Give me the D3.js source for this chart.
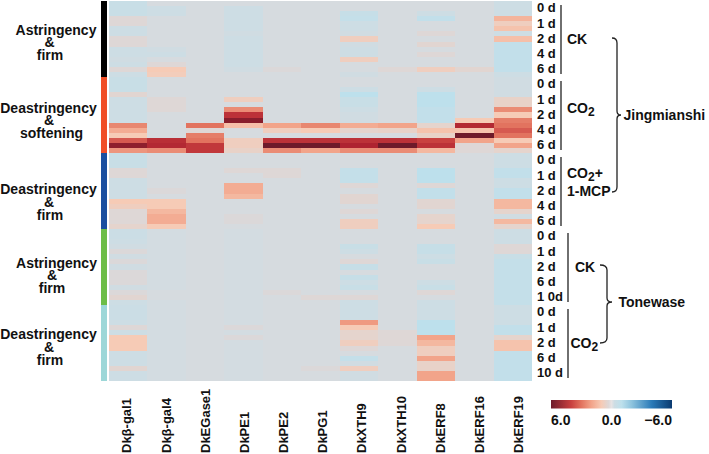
<!DOCTYPE html>
<html><head><meta charset="utf-8">
<script src="https://cdn.jsdelivr.net/npm/d3@7"></script>
<style>
html,body{margin:0;padding:0;background:#fff;}
text{font-family:"Liberation Sans",Arial,sans-serif;font-weight:bold;fill:#111;}
</style></head>
<body>
<svg id="chart" width="709" height="454"></svg>
<script>
// ---------- DATA ----------
const genes = ["Dkβ-gal1","Dkβ-gal4","DkEGase1","DkPE1","DkPE2","DkPG1","DkXTH9","DkXTH10","DkERF8","DkERF16","DkERF19"];
const timeLabels = ["0 d","1 d","2 d","4 d","6 d","0 d","1 d","2 d","4 d","6 d","0 d","1 d","2 d","4 d","6 d",
                    "0 d","1 d","2 d","6 d","1 0d","0 d","1 d","2 d","6 d","10 d"];
const replicates = 3;
const phenotypes = [["Astringency","&","firm"],["Deastringency","&","softening"],["Deastringency","&","firm"],["Astringency","&","firm"],["Deastringency","&","firm"]];
const phenotypeColors = ["#000000","#f04e26","#1b4f9f","#6dbd47","#9dd7d8"];
const treatments = ["CK","CO2","CO2+1-MCP","CK","CO2"];
const cultivars = ["Jingmianshi","Tonewase"];
const legendTicks = [6,0,-6];

// expression values (log2 fold change), 25 time points x 3 replicates per gene
const gal1 = [-0.5,-0.5,-0.5, 0.3,0.3,-0.3, -0.3,0.3,0.3, -0.3,-0.3,-0.2, -0.3,0.3,-0.3,
  -0.5,-0.5,-0.5, 0.4,-0.3,-0.3, -0.3,-0.3,-0.3, 2.6,1.8,1.0, 3.5,5.5,2.3,
  -0.5,-0.5,-0.5, 0.3,0.3,-0.3, -0.3,-0.3,-0.3, 1.0,0.8,0.3, 0.3,0.3,0.5,
  -0.4,-0.4,-0.3, -0.2,0.2,-0.2, 0.2,-0.2,0.2, 0.2,0.2,-0.2, 0.2,0.4,-0.3,
  -0.4,-0.4,-0.4, -0.3,0.3,-0.3, 1.0,1.0,1.0, -0.3,-0.3,-0.3, 0.4,-0.3,-0.3];
const gal4 = [0,-0.3,-0.3, 0,0,0, 0,0,0, -0.2,-0.3,0, 0.3,1.0,0.9,
  0,0,0, 0,0.3,0.3, 0.3,0,0, 0,0,0, 4.6,4.8,2.5,
  0,0,0, 0,0,0, 0,0.2,0, 1.0,1.0,1.5, 1.8,1.8,1.0,
  -0.1,-0.1,-0.1, -0.1,-0.1,-0.1, -0.1,-0.1,-0.1, -0.1,-0.1,-0.1, 0,0,-0.1,
  -0.1,-0.1,-0.1, -0.1,-0.1,-0.1, -0.1,-0.1,-0.1, -0.1,-0.1,-0.1, -0.1,-0.1,-0.1];
const egase1 = [0,0,0, 0,0,0, 0,0,0, 0,0,0, 0,0,0,
  0,0,0, 0,0,0, 0,0,0, 3.0,0.3,2.8, 3.0,4.3,4.3,
  0,0,0, 0,0,0, 0,0,0, 0,0,0, 0,0,0,
  0,0,0, 0,0,0, 0,0,0, 0,0,0, 0,0,0,
  0,0,0, 0,0,0, 0,0,0, 0,0,0, 0,0,0];
const pe1 = [0,-0.3,-0.3, -0.3,-0.3,-0.3, -0.2,-0.3,-0.3, -0.3,-0.3,-0.3, -0.3,-0.2,0,
  0,0,0, 0,0.8,0, 2.5,4.5,5.6, 1.3,0,0, 0.8,0.8,0.6,
  0,0,0, 0.3,0,0, 1.8,1.8,1.5, 0,0,0, 0.2,0.2,0,
  -0.1,-0.1,-0.1, -0.1,-0.1,-0.1, -0.1,-0.1,-0.1, -0.1,-0.1,-0.1, -0.1,-0.1,-0.1,
  -0.1,-0.1,-0.1, -0.1,0.2,-0.1, 0.2,-0.1,-0.1, -0.1,-0.1,-0.1, -0.1,-0.1,-0.1];
const pe2 = [0,0,0, 0,0,0, 0,0,0, 0,0,0, 0,0.2,0,
  0,0,0, 0,0,0, 0,0,0, 2.0,0.8,0, 4.5,6.0,2.5,
  0,0,0, 0.3,0.3,0, 0,0,0, 0,0,0, 0,0,0,
  0,0,0, 0,0,0, 0,0,0, 0,0,0, 0.2,0,0,
  0,0,0, 0,0,0, 0,0,0, 0,0,0, 0,0,0];
const pg1 = [0,0,0, 0,0,0, 0,0,0, 0,0,0, 0,0,0,
  0,0,0, 0,0,0, 0,0,0, 2.6,1.0,0, 4.5,6.0,2.0,
  0,0,0, 0,0,0, 0,0,0, 0,0,0, 0,0,0,
  0,0,0, 0,0,0, 0,0,0, 0,0,0, 0,0.3,0,
  0,0,0, 0,0,0, 0,0,0, 0,0,0, 0.2,0,0];
const xth9 = [0,0,-0.6, -0.7,-0.3,-0.3, -0.2,0.8,-0.2, -0.3,-0.3,0.8, 0,0,-0.2,
  0,0,-0.3, -1.0,-0.5,-0.5, -0.3,-0.2,-0.2, 1.8,0.5,0, 4.5,5.0,2.5,
  0,0,0, -0.7,-0.7,-0.7, 0.3,0,0.4, 0.4,0,0.3, 0,0.8,0.8,
  0,0,0, -0.5,-0.3,0, 0.3,-0.6,0, -0.6,-0.3,-0.5, 0,0.3,-0.3,
  -0.3,-0.3,-0.3, 2.2,1.0,0.5, 0.5,0.8,0.3, 0,-0.7,-0.2, 0.8,-0.2,-0.2];
const xth10 = [0,0,0, 0,0,0, 0,0,0, 0,0,0, 0,0.3,0,
  0,0,0, 0,0,0, 0,0,0, 2.0,0.6,0, 4.5,6.0,2.5,
  0,0,0, 0,0,0, 0,0,0, 0,0,0, 0,0,0,
  0,0,0, 0,0,0, 0,0,0, 0,0,0, 0,0,0,
  0,0,0, 0,0,0.3, 0.3,0.3,0, 0,0,0, 0,0,0];
const erf8 = [0,0,-0.3, -0.8,0,0, 0.3,0,0.4, 0,0.3,0, 0,0.8,0,
  0,0,-0.3, -1.0,-1.0,-1.0, -0.8,-0.8,-0.8, 0.5,1.2,0.6, 4.0,4.5,1.5,
  0,0,0, -1.0,-1.0,-1.0, 0.3,-0.8,-0.8, 0.4,0.4,0, 0.5,0.5,1.0,
  0,0,0, -0.6,-0.6,-0.3, -0.5,0,0, 0,-0.3,-0.5, 0.3,0,-0.3,
  -0.3,-0.3,-0.3, -1.0,-1.0,-1.0, 2.0,1.5,0.8, 0.8,2.0,0.6, 0.6,2.0,2.0];
const erf16 = [0,0,0, 0,0,0, 0,0,0, 0,0,0, 0,0.4,0,
  0,0,0, 0,0,0, 0,0,1.0, 4.8,1.2,6.0, 2.0,0.3,0.3,
  0,0,0, 0,0,0, 0,0,0, 0,0,0, 0,0,0,
  0,0,0, 0,0,0, 0,0,0, 0,0,0, 0,0,0,
  0,0,0, 0,0,0, 0,0,0, 0,0,0, 0,0,0];
const erf19 = [-0.3,-0.3,-0.3, 1.6,0.8,1.2, -0.3,1.3,-0.8, -0.8,-0.8,-0.8, -0.8,-0.8,-0.3,
  -0.2,-0.2,-0.2, -0.2,0.6,0.6, 2.5,1.0,2.8, 3.0,3.5,3.0, 1.0,2.0,0.5,
  -0.3,-0.3,-0.3, -0.8,-0.8,-0.3, -0.3,-0.8,-0.8, 1.5,1.5,0.5, -0.2,1.5,0.5,
  -0.3,-0.3,-0.3, 0.3,0.3,-0.5, -0.7,-0.7,-0.7, -0.7,-0.7,-0.7, -0.7,-0.7,-0.7,
  -0.3,-0.3,-0.3, -0.3,-0.8,-0.8, 0.5,1.2,1.2, -0.8,-0.8,-0.8, -0.8,-0.8,-0.8];
const seriesValues = [gal1,gal4,egase1,pe1,pe2,pg1,xth9,xth10,erf8,erf16,erf19];

// ---------- CHART ----------
const svg = d3.select("#chart");
const nRows = timeLabels.length * replicates;
const x = d3.scaleBand().domain(genes).range([109, 532]);
const y = d3.scaleBand().domain(d3.range(nRows)).range([1, 381]);
const yt = d3.scaleBand().domain(d3.range(timeLabels.length)).range([1, 381]);
const yg = d3.scaleBand().domain(d3.range(phenotypes.length)).range([1, 381]);
const xLab = d3.scaleBand().domain(genes).range([107.2, 538.2]);

const color = d3.scaleLinear()
  .domain([-6,-4,-2,-1,-0.3,0,0.3,1,2,3,4,5,6])
  .range(["#0a3a70","#2a7ab8","#8ec4de","#bde0ec","#cddde4","#d6dbdf","#ded7d6","#f6cbb6","#f2a48a","#e2735f","#c94140","#ae2330","#6e1a2a"])
  .clamp(true);

// cells
const cells = [];
seriesValues.forEach((vals,gi)=>vals.forEach((v,r)=>cells.push({g:genes[gi],r,v})));
svg.append("g").selectAll("rect").data(cells).join("rect")
  .attr("x",d=>x(d.g)).attr("y",d=>y(d.r))
  .attr("width",x.bandwidth()+0.3).attr("height",y.bandwidth()+0.3)
  .attr("fill",d=>color(d.v)).attr("shape-rendering","crispEdges");

// phenotype side bars
svg.append("g").selectAll("rect").data(phenotypes).join("rect")
  .attr("x",101).attr("width",6)
  .attr("y",(d,i)=>yg(i)).attr("height",yg.bandwidth()+0.3)
  .attr("fill",(d,i)=>phenotypeColors[i]).attr("shape-rendering","crispEdges");

// phenotype labels
const labelPos = [
  {y:34.5, xs:[56,49.5,50]},
  {y:112.7, xs:[48.5,49,51.5]},
  {y:194.3, xs:[48.5,49,50]},
  {y:267.7, xs:[56.5,52,52]},
  {y:339.3, xs:[48.5,49,50]}];
phenotypes.forEach((lines,i)=>{
  lines.forEach((t,j)=>{
    svg.append("text").attr("x",labelPos[i].xs[j]).attr("y",labelPos[i].y + j*12.6)
      .attr("text-anchor","middle").attr("font-size",14).text(t);
  });
});

// time labels
svg.append("g").selectAll("text").data(timeLabels).join("text")
  .attr("x",537).attr("y",(d,i)=>yt(i)+yt.bandwidth()/2+3.8)
  .attr("font-size",13).text(d=>d);

// treatment bracket lines
const tGroups = [
  {s:0,e:4,x:561},{s:5,e:9,x:561},{s:10,e:14,x:561},{s:15,e:19,x:568},{s:20,e:24,x:568}];
svg.append("g").selectAll("line").data(tGroups).join("line")
  .attr("x1",d=>d.x).attr("x2",d=>d.x)
  .attr("y1",d=>yt(d.s)+4).attr("y2",d=>yt(d.e)+yt.bandwidth()-3)
  .attr("stroke","#222").attr("stroke-width",1.3);

// treatment labels
function co2(sel, plus){
  sel.append("tspan").text("CO");
  sel.append("tspan").attr("font-size",12).attr("dy",3).text("2");
  if(plus) sel.append("tspan").attr("dy",-3).text("+");
}
svg.append("text").attr("x",567).attr("y",43.5).attr("font-size",14).text(treatments[0]);
co2(svg.append("text").attr("x",567).attr("y",112.7).attr("font-size",14), false);
co2(svg.append("text").attr("x",567).attr("y",178).attr("font-size",14), true);
svg.append("text").attr("x",567).attr("y",196).attr("font-size",14).text("1-MCP");
svg.append("text").attr("x",575).attr("y",271.7).attr("font-size",14).text(treatments[3]);
co2(svg.append("text").attr("x",570.5).attr("y",348.3).attr("font-size",14), false);

// braces
function brace(xa, xb, xc, yTop, yMid, yBot){
  return `M${xa},${yTop} Q${xb},${yTop} ${xb},${yTop+5} L${xb},${yMid-4} Q${xb},${yMid} ${xc},${yMid} `+
         `Q${xb},${yMid} ${xb},${yMid+4} L${xb},${yBot-5} Q${xb},${yBot} ${xa},${yBot}`;
}
svg.append("path").attr("d",brace(612,617,621,38,115,192)).attr("fill","none").attr("stroke","#222").attr("stroke-width",1.3);
svg.append("path").attr("d",brace(600,607,612,265,302,343)).attr("fill","none").attr("stroke","#222").attr("stroke-width",1.3);
svg.append("text").attr("x",623.5).attr("y",119.5).attr("font-size",14).text(cultivars[0]);
svg.append("text").attr("x",618.5).attr("y",306.5).attr("font-size",14).text(cultivars[1]);

// gene labels (rotated)
svg.append("g").selectAll("text").data(genes).join("text")
  .attr("transform",d=>`translate(${xLab(d)+xLab.bandwidth()/2},453) rotate(-90)`)
  .attr("dy","0.35em").attr("font-size",13).text(d=>d);

// legend
const lx = d3.scaleLinear().domain([6,-6]).range([551,672]);
const defs = svg.append("defs");
const grad = defs.append("linearGradient").attr("id","lg").attr("x1","0%").attr("x2","100%");
const legendStops = [6,4,3,2,1,0.3,0,-0.3,-1,-2,-4,-6];
legendStops.forEach(v=>{
  grad.append("stop").attr("offset",((lx(v)-551)/121*100)+"%").attr("stop-color", v===0 ? "#e6e3e4" : color(v));
});
svg.append("rect").attr("x",lx(6)).attr("y",400).attr("width",lx(-6)-lx(6)).attr("height",8.5).attr("fill","url(#lg)");
svg.append("g").selectAll("text").data(legendTicks).join("text")
  .attr("x",d=>lx(d)).attr("y",425)
  .attr("text-anchor",(d,i)=>["start","middle","end"][i])
  .attr("font-size",14).text(d=> d<0 ? "\u2212"+Math.abs(d).toFixed(1) : d.toFixed(1));
</script>
</body></html>
